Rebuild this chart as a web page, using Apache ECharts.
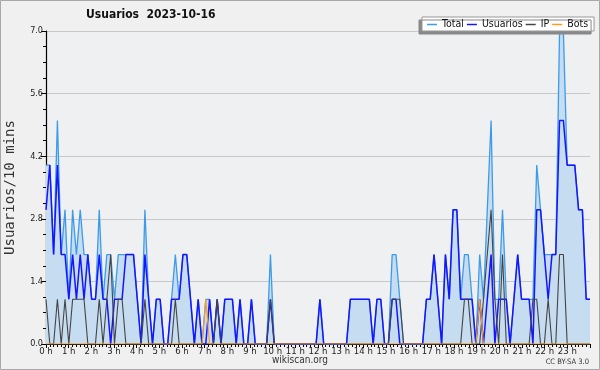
<!DOCTYPE html>
<html><head><meta charset="utf-8">
<script src="https://cdn.jsdelivr.net/npm/echarts@6/dist/echarts.min.js"></script>
<style>html,body{margin:0;padding:0;background:#f0f0f0}#c{width:600px;height:370px}</style>
</head><body><div id="c"></div>
<script>
// 10-minute slots of the day
const slots = [];
for (let h = 0; h < 24; h++) for (let m = 0; m < 60; m += 10) slots.push(String(h).padStart(2,'0') + ':' + String(m).padStart(2,'0'));
const hourLabels = ["0 h","1 h","2 h","3 h","4 h","5 h","6 h","7 h","8 h","9 h","10 h","11 h","12 h","13 h","14 h","15 h","16 h","17 h","18 h","19 h","20 h","21 h","22 h","23 h"];

const total = [
 4,4,2,5,2,3,1,3,2,3,2,2,
 1,1,3,1,2,2,1,2,2,2,2,2,
 1,0,3,1,0,1,1,0,0,1,2,1,
 2,2,1,0,1,0,1,1,0,1,0,1,
 1,1,0,1,0,0,1,0,0,0,0,2,
 0,0,0,0,0,0,0,0,0,0,0,0,
 1,0,0,0,0,0,0,0,1,1,1,1,
 1,1,0,1,1,0,0,2,2,1,0,0,
 0,0,0,0,1,1,2,1,0,2,1,3,
 3,1,2,2,1,0,2,1,3,5,1,1,
 3,1,0,1,2,1,1,1,1,4,3,2,
 2,2,2,7,7,4,4,4,3,3,1,1
];
const usuarios = [
 3,4,2,4,2,2,1,2,1,2,1,2,
 1,1,2,1,1,0,1,1,1,2,2,2,
 1,0,2,1,0,1,1,0,0,1,1,1,
 2,2,1,0,1,0,0,1,0,1,0,1,
 1,1,0,1,0,0,1,0,0,0,0,1,
 0,0,0,0,0,0,0,0,0,0,0,0,
 1,0,0,0,0,0,0,0,1,1,1,1,
 1,1,0,1,1,0,0,1,1,0,0,0,
 0,0,0,0,1,1,2,1,0,2,1,3,
 3,1,1,1,1,0,1,0,1,2,0,1,
 1,1,0,1,2,1,1,1,0,3,3,2,
 1,2,2,5,5,4,4,4,3,3,1,1
];
const ip = [
 1,0,0,1,0,1,0,1,1,1,1,0,
 0,0,1,0,1,2,0,1,1,0,0,0,
 0,0,1,0,0,0,0,0,0,0,1,0,
 0,0,0,0,0,0,0,0,0,1,0,0,
 0,0,0,0,0,0,0,0,0,0,0,1,
 0,0,0,0,0,0,0,0,0,0,0,0,
 0,0,0,0,0,0,0,0,0,0,0,0,
 0,0,0,0,0,0,0,1,1,1,0,0,
 0,0,0,0,0,0,0,0,0,0,0,0,
 0,0,1,1,0,0,0,1,2,3,1,0,
 2,0,0,0,0,0,0,0,1,1,0,0,
 1,0,0,2,2,0,0,0,0,0,0,0
];
const bots = [
 0,0,0,0,0,0,0,0,0,0,0,0,
 0,0,0,0,0,0,0,0,0,0,0,0,
 0,0,0,0,0,0,0,0,0,0,0,0,
 0,0,0,0,0,0,1,0,0,0,0,0,
 0,0,0,0,0,0,0,0,0,0,0,0,
 0,0,0,0,0,0,0,0,0,0,0,0,
 0,0,0,0,0,0,0,0,0,0,0,0,
 0,0,0,0,0,0,0,0,0,0,0,0,
 0,0,0,0,0,0,0,0,0,0,0,0,
 0,0,0,0,0,0,1,0,0,0,0,0,
 0,0,0,0,0,0,0,0,0,0,0,0,
 0,0,0,0,0,0,0,0,0,0,0,0
];

const FONT = '"DejaVu Sans Condensed", "DejaVu Sans", sans-serif';
const chart = echarts.init(document.getElementById('c'), null, {renderer: 'canvas'});
chart.setOption({
  animation: false,
  backgroundColor: '#f0f0f0',
  textStyle: {fontFamily: FONT},
  grid: {left: 46, right: 10, top: 31, bottom: 26, show: true, backgroundColor: '#eef0f2', borderWidth: 0,
         containLabel: false, outerBoundsMode: 'none'},
  legend: {
    left: 422, top: 17, orient: 'horizontal', width: 200,
    padding: [2, 6, 1, 5], itemGap: 3, itemWidth: 10, itemHeight: 1.5,
    icon: 'rect', backgroundColor: '#ffffff', borderColor: '#999', borderWidth: 1,
    shadowColor: '#888', shadowOffsetX: -3, shadowOffsetY: 3, shadowBlur: 0.01,
    textStyle: {fontFamily: FONT, fontSize: 10.5, color: '#111'},
    data: ['Total', 'Usuarios', 'IP', 'Bots']
  },
  graphic: [
    {type: 'rect', shape: {x: 0.5, y: 0.5, width: 599, height: 369}, style: {fill: 'none', stroke: '#a8a8a8', lineWidth: 1}, z: 100},
    {type: 'text', left: 86, top: 9, style: {text: 'Usuarios  2023-10-16', font: 'bold 12px ' + FONT, fill: '#111'}},
    {type: 'text', left: 'center', top: 355, style: {text: 'wikiscan.org', font: '10px ' + FONT, fill: '#333'}},
    {type: 'text', right: 11, top: 358, style: {text: 'CC BY-SA 3.0', font: '7.5px ' + FONT, fill: '#333'}}
  ],
  xAxis: [
    {type: 'category', data: slots, boundaryGap: false, show: false},
    {type: 'value', min: 0, max: 24, interval: 1, position: 'bottom',
     axisLine: {show: true, lineStyle: {color: '#000', width: 1.2}},
     axisTick: {show: true, length: 4, lineStyle: {color: '#000'}},
     minorTick: {show: true, splitNumber: 6, length: 3, lineStyle: {color: '#000'}},
     splitLine: {show: false},
     axisLabel: {margin: 3, fontSize: 9.5, color: '#222', fontFamily: FONT, formatter: v => v < 24 ? hourLabels[v] : ''}}
  ],
  yAxis: {
    type: 'value', min: 0, max: 7, interval: 1.4,
    axisLine: {show: true, lineStyle: {color: '#000', width: 1.2}},
    axisTick: {show: true, length: 5, lineStyle: {color: '#000'}},
    minorTick: {show: true, splitNumber: 4, length: 3, lineStyle: {color: '#000'}},
    splitLine: {lineStyle: {color: '#c8c8c8'}},
    axisLabel: {margin: 3, fontSize: 9, color: '#222', fontFamily: FONT, formatter: v => Number(v).toFixed(1)},
    name: 'Usuarios/10 mins', nameLocation: 'middle', nameGap: 29, nameRotate: 90,
    nameTextStyle: {fontFamily: '"DejaVu Sans Mono", monospace', fontSize: 14, color: '#333'}
  },
  series: [
    {name: 'Total', type: 'line', xAxisIndex: 0, data: total, symbol: 'none', color: '#3d9be9',
     lineStyle: {width: 1.3, color: '#3d9be9'}, areaStyle: {color: '#c6dcf0', opacity: 1}},
    {name: 'Usuarios', type: 'line', xAxisIndex: 0, data: usuarios, symbol: 'none', color: '#1515ff',
     lineStyle: {width: 1.5, color: '#1515ff'}},
    {name: 'IP', type: 'line', xAxisIndex: 0, data: ip, symbol: 'none', color: '#444',
     lineStyle: {width: 1.1, color: '#444'}},
    {name: 'Bots', type: 'line', xAxisIndex: 0, data: bots, symbol: 'none', color: '#ff9a1a',
     lineStyle: {width: 1.1, color: '#ff9a1a'}}
  ]
});
</script></body></html>
